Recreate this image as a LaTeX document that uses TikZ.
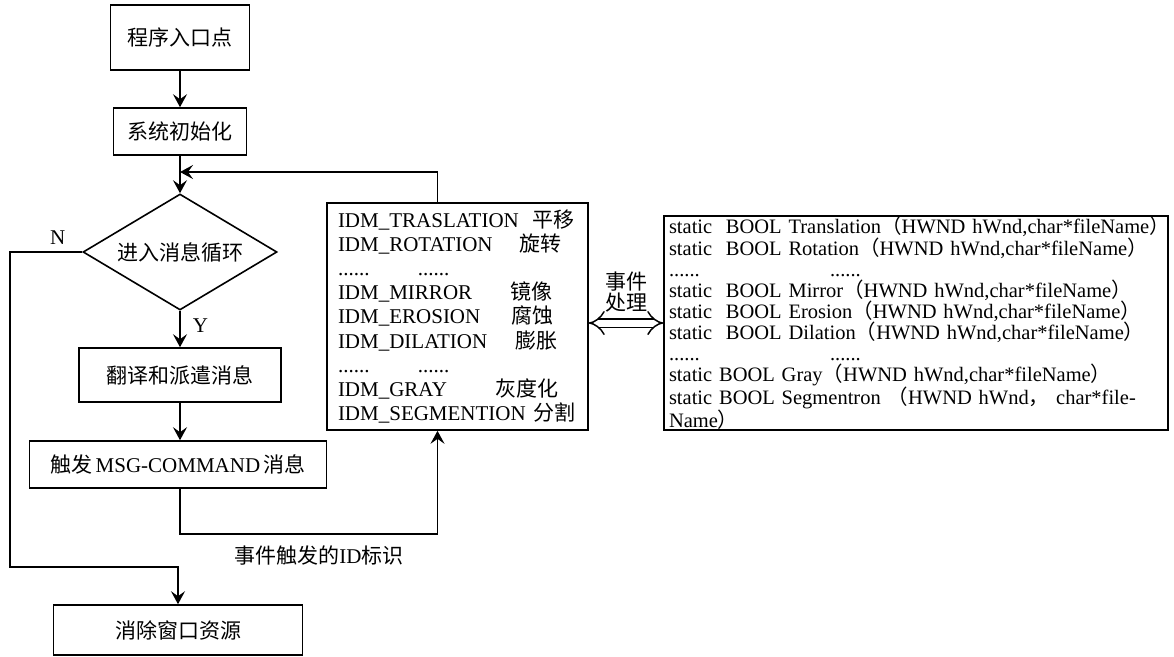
\documentclass[tikz,border=0pt]{standalone}
\usepackage{fontspec}
\setmainfont{Liberation Serif}
\newfontfamily\cjk{Noto Sans CJK SC}
\newcommand{\zh}[1]{{\cjk #1}}
\usetikzlibrary{shapes.geometric,arrows.meta}

\begin{document}
\begin{tikzpicture}[
  x=1pt, y=-1pt,
  line width=1.6pt,
  >={Stealth[length=13pt,width=14pt,inset=5pt]},
  proc/.style={
    draw,
    align=center,
    inner sep=0pt,
    font=\fontsize{21}{25}\selectfont
  },
  decide/.style={
    draw,
    diamond,
    aspect=1.67,
    inner sep=0pt,
    font=\fontsize{21}{25}\selectfont
  },
  listbox/.style={
    draw,
    align=left,
    inner ysep=0pt
  },
  tag/.style={
    inner sep=0pt,
    font=\fontsize{21}{21}\selectfont
  },
  flow/.style={->}
]
\useasboundingbox (0,0) rectangle (1174,656);

\node[proc, minimum width=139pt, minimum height=65pt] (entry) at (180,37.5) {\zh{程序入口点}};
\node[proc, minimum width=133pt, minimum height=47pt] (init) at (180,131.5) {\zh{系统初始化}};
\node[decide, minimum width=194pt, minimum height=116pt] (loop) at (180,252) {\zh{进入消息循环}};
\node[proc, minimum width=202pt, minimum height=54pt] (transl) at (180,375) {\zh{翻译和派遣消息}};
\node[proc, minimum width=297pt, minimum height=47pt] (msg) at (178,464.5) {\zh{触发}\hspace{3pt}MSG-COMMAND\hspace{3pt}\zh{消息}};
\node[proc, minimum width=249pt, minimum height=50pt] (cleanup) at (178,630) {\zh{消除窗口资源}};

% message id list
\node[listbox, minimum width=261pt, minimum height=227pt, text width=239pt, inner xsep=11pt,
  font=\fontsize{21}{24.1}\selectfont] (idlist) at (457.5,316.5) {%
  \makebox[194pt][l]{IDM\_TRASLATION}\zh{平移}\\
  \makebox[181pt][l]{IDM\_ROTATION}\zh{旋转}\\
  \makebox[80pt][l]{......}......\\
  \makebox[172pt][l]{IDM\_MIRROR}\zh{镜像}\\
  \makebox[173pt][l]{IDM\_EROSION}\zh{腐蚀}\\
  \makebox[177pt][l]{IDM\_DILATION}\zh{膨胀}\\
  \makebox[80pt][l]{......}......\\
  \makebox[157pt][l]{IDM\_GRAY}\zh{灰度化}\\
  \makebox[195pt][l]{IDM\_SEGMENTION}\zh{分割}};

% handler functions
\node[listbox, minimum width=504pt, minimum height=214pt, text width=494pt, inner xsep=5pt,
  font=\fontsize{20.5}{21.1}\selectfont] (funcs) at (916,323) {%
  \mbox{static~~BOOL Translation\zh{（}HWND hWnd,char*fileName\zh{）}}\\
  static~~BOOL Rotation\zh{（}HWND hWnd,char*fileName\zh{）}\\
  \makebox[161pt][l]{......}......\\
  static~~BOOL Mirror\zh{（}HWND hWnd,char*fileName\zh{）}\\
  static~~BOOL Erosion\zh{（}HWND hWnd,char*fileName\zh{）}\\
  static~~BOOL Dilation\zh{（}HWND hWnd,char*fileName\zh{）}\\
  \makebox[161pt][l]{......}......\\
  static BOOL Gray\zh{（}HWND hWnd,char*fileName\zh{）}\\
  \makebox[494pt][s]{static BOOL Segmentron \zh{（}HWND hWnd\zh{，} char*file-}\\
  Name\zh{）}};

\coordinate (back) at (180,172);
\coordinate (nturn) at (10,567);

\draw[flow] (entry) -- (init);
\draw[flow] (init) -- (loop);
\draw[flow] (loop) -- node[tag, right=12pt, pos=0.4] (ylbl) {Y} (transl);
\draw[flow] (transl) -- (msg.north -| transl);
\draw[flow] (msg.south -| transl) -- ++(0,45) -| node[tag, pos=0.27, below=11pt] (idlbl) {\zh{事件触发的}ID\zh{标识}} ([xshift=-20pt]idlist.south);
\draw[flow] ([xshift=-20pt]idlist.north) |- (back);
\draw[flow] (loop.west) -- node[tag, above=7pt, pos=0.34] (nlbl) {N} (loop.west -| nturn) -- (nturn) -| (cleanup.north);
\draw[line width=1.5pt, double distance=7pt, {Implies[length=11pt,width=20pt]}-{Implies[length=11pt,width=20pt]}] (idlist.east |- funcs.west) -- node[tag, above=10pt, align=center] (evtlbl) {\zh{事件}\\\zh{处理}} (funcs.west);
\end{tikzpicture}
\end{document}
